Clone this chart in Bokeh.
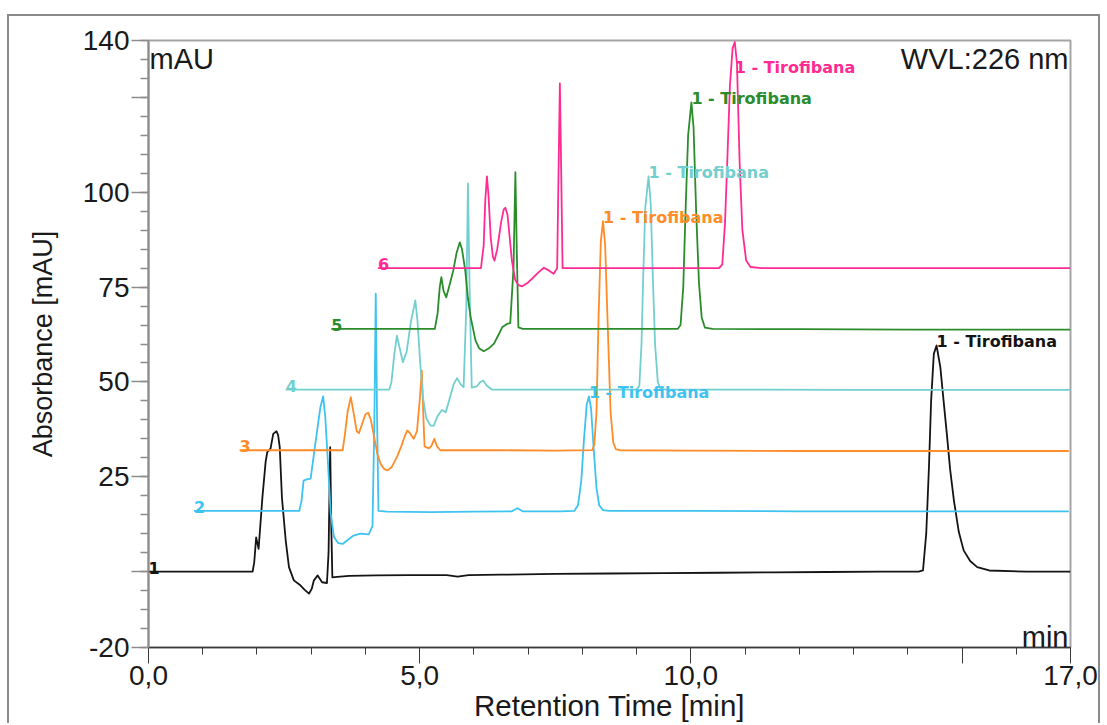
from bokeh.plotting import figure
from bokeh.models import Range1d, FixedTicker, Label, ColumnDataSource
from bokeh.core.properties import value
from bokeh.embed import file_html
from bokeh.resources import INLINE

# ---------------- data ----------------
trace_names = ["1", "2", "3", "4", "5", "6"]
colors = ["#141414", "#3ec3f0", "#ff8c28", "#72cfcf", "#2b8c2b", "#ff2a92"]
start_times = [0.0, 0.84, 1.68, 2.53, 3.37, 4.23]
baselines = [0, 16, 32, 48, 64, 80]

peak_name = "1 - Tirofibana"
peak_times = [14.53, 8.12, 8.38, 9.22, 10.01, 10.81]
peak_heights = [59.6, 46.2, 92.4, 104.2, 123.7, 139.6]

t1 = [0.00, 1.92, 1.95, 1.985, 2.03, 2.10, 2.16, 2.19, 2.25, 2.30, 2.36, 2.39, 2.42, 2.46, 2.53, 2.59, 2.68, 2.80, 2.88, 2.96,
      3.01, 3.05, 3.12, 3.20, 3.29, 3.32, 3.35, 3.37, 3.39, 3.48, 3.70, 4.20, 4.80, 5.50, 5.70, 5.90, 6.50, 7.50, 8.50, 9.50,
      10.50, 11.50, 12.50, 13.50, 14.20, 14.28, 14.34, 14.39, 14.43, 14.48, 14.53, 14.60, 14.66, 14.72, 14.78, 14.85, 14.94,
      15.03, 15.15, 15.28, 15.50, 16.20, 17.00]
v1 = [0.0, 0.0, 2.5, 9.0, 6.0, 19.5, 29.0, 31.5, 32.4, 36.3, 37.0, 36.0, 32.8, 19.6, 8.2, 1.2, -2.3, -3.6, -4.8, -5.8,
      -4.5, -2.3, -1.0, -2.8, -3.0, 5.0, 32.8, 12.0, -1.5, -1.4, -1.1, -1.0, -0.9, -0.9, -1.3, -0.9, -0.8, -0.6, -0.5, -0.4,
      -0.3, -0.2, -0.1, 0.0, 0.0, 0.3, 10.0, 27.5, 45.0, 57.4, 59.6, 53.9, 45.0, 36.3, 27.0, 18.8, 10.5,
      5.6, 2.8, 1.2, 0.3, 0.0, 0.0]

t2 = [0.84, 2.78, 2.82, 2.86, 2.92, 2.99, 3.05, 3.11, 3.17, 3.22, 3.26, 3.31, 3.36, 3.42, 3.50, 3.58, 3.66, 3.78, 3.91, 4.06,
      4.13, 4.165, 4.19, 4.215, 4.24, 4.40, 5.20, 6.00, 6.70, 6.80, 6.90, 7.60, 7.85, 7.92, 7.98, 8.03, 8.08, 8.12, 8.16, 8.21,
      8.26, 8.31, 8.38, 8.50, 10.0, 12.0, 14.0, 16.97]
v2 = [16.0, 16.0, 18.5, 24.0, 24.3, 24.5, 31.0, 37.2, 43.4, 46.2, 40.7, 28.4, 15.3, 9.1, 7.5, 7.3, 8.2, 9.5, 10.0, 9.8,
      12.0, 40.0, 73.3, 40.0, 16.0, 15.8, 15.7, 15.8, 15.9, 16.7, 15.9, 15.9, 16.0, 17.5, 24.0, 35.0, 44.0, 46.2, 43.0, 32.0,
      22.0, 17.5, 16.2, 16.0, 16.0, 15.9, 15.9, 15.9]

t3 = [1.68, 3.58, 3.62, 3.67, 3.73, 3.78, 3.84, 3.88, 3.94, 4.00, 4.05, 4.10, 4.16, 4.22, 4.28, 4.35, 4.41, 4.48, 4.58, 4.66,
      4.72, 4.77, 4.82, 4.89, 4.95, 5.00, 5.04, 5.07, 5.09, 5.17, 5.22, 5.27, 5.32, 5.38, 6.50, 7.50, 8.18, 8.22, 8.26, 8.30,
      8.34, 8.38, 8.42, 8.46, 8.52, 8.57, 8.62, 8.70, 10.0, 12.0, 14.0, 16.97]
v3 = [32.0, 32.0, 36.0, 42.0, 46.0, 42.0, 37.0, 36.5, 39.0, 41.5, 41.9, 40.0, 35.5, 31.0, 28.4, 27.0, 26.7, 27.5, 30.2, 33.0,
      35.5, 37.2, 36.5, 35.0, 37.0, 45.0, 53.0, 40.0, 33.0, 32.5, 33.2, 35.0, 33.0, 32.0, 32.0, 31.9, 32.0, 33.5, 42.0, 68.0,
      87.0, 92.4, 86.0, 68.0, 42.0, 34.0, 32.2, 32.0, 31.9, 31.8, 31.8, 31.8]

t4 = [2.53, 4.44, 4.48, 4.53, 4.58, 4.63, 4.69, 4.76, 4.84, 4.92, 4.96, 5.01, 5.06, 5.12, 5.20, 5.26, 5.33, 5.41, 5.48, 5.55,
      5.63, 5.69, 5.75, 5.81, 5.86, 5.89, 5.92, 5.96, 6.05, 6.12, 6.17, 6.24, 6.33, 7.50, 9.00, 9.05, 9.09, 9.12, 9.16, 9.22,
      9.26, 9.30, 9.34, 9.39, 9.44, 9.55, 11.0, 13.0, 15.0, 17.0]
v4 = [48.0, 48.0, 50.0, 57.0, 62.2, 59.0, 55.2, 58.0, 66.0, 71.5, 66.0, 55.0, 46.0, 40.5, 38.5, 38.5, 41.0, 42.6, 42.0, 45.5,
      49.5, 51.0, 49.5, 48.6, 70.0, 102.3, 75.0, 48.5, 48.8, 50.0, 50.4, 49.0, 48.0, 48.0, 48.0, 49.0, 60.0, 77.0, 96.0, 104.2,
      97.0, 77.0, 60.0, 50.0, 48.2, 48.0, 48.0, 47.9, 47.9, 47.9]

t5 = [3.37, 5.28, 5.33, 5.37, 5.40, 5.44, 5.49, 5.55, 5.62, 5.68, 5.74, 5.78, 5.84, 5.89, 5.94, 6.03, 6.10, 6.18, 6.27, 6.37,
      6.45, 6.52, 6.61, 6.67, 6.73, 6.765, 6.79, 6.82, 6.90, 8.50, 9.76, 9.81, 9.86, 9.90, 9.95, 10.01, 10.05, 10.10, 10.15,
      10.20, 10.26, 10.40, 12.0, 14.0, 17.0]
v5 = [64.0, 64.0, 68.0, 75.0, 77.6, 74.0, 72.3, 75.5, 79.4, 84.0, 86.8, 85.0, 79.4, 72.0, 67.1, 60.9, 58.8, 58.1, 58.8, 60.1,
      62.3, 64.4, 65.3, 65.5, 80.0, 105.3, 85.0, 64.4, 64.0, 64.0, 64.0, 65.0, 75.0, 94.0, 115.0, 123.7, 117.0, 94.0, 76.0,
      67.0, 64.3, 64.0, 63.9, 63.8, 63.8]

t6 = [4.23, 6.13, 6.18, 6.21, 6.24, 6.27, 6.31, 6.35, 6.38, 6.43, 6.50, 6.55, 6.58, 6.62, 6.66, 6.70, 6.76, 6.82, 6.89, 6.98,
      7.10, 7.20, 7.29, 7.38, 7.47, 7.535, 7.56, 7.585, 7.61, 7.635, 7.75, 9.00, 10.52, 10.58, 10.63, 10.67, 10.72, 10.77,
      10.81, 10.85, 10.90, 10.95, 11.02, 11.10, 11.30, 13.0, 15.0, 17.0]
v6 = [80.0, 80.0, 86.0, 98.0, 104.2, 99.0, 88.0, 83.0, 82.0, 85.0, 92.0, 95.5, 95.9, 94.0, 88.0, 82.0, 77.0, 75.5, 75.2, 76.0,
      77.6, 79.0, 80.1, 79.4, 78.5, 80.0, 105.0, 128.7, 105.0, 80.0, 80.0, 80.0, 80.0, 81.0, 92.0, 107.5, 128.0, 138.0,
      139.6, 134.0, 107.5, 90.0, 82.0, 80.3, 80.0, 80.0, 80.0, 80.0]

traces_t = [t1, t2, t3, t4, t5, t6]
traces_v = [v1, v2, v3, v4, v5, v6]

x_tick_values = [0, 5, 10, 15, 17]
x_tick_labels = ["0,0", "5,0", "10,0", "", "17,0"]
y_tick_values = [-20, 0, 25, 50, 75, 100, 125, 140]
y_tick_labels = ["-20", "", "25", "50", "75", "100", "", "140"]

X_MIN, X_MAX = 0, 17
Y_MIN, Y_MAX = -20, 140

# ---------------- figure ----------------
FONT = "Liberation Sans"
p = figure(width=1093, height=709, output_backend="svg", toolbar_location=None,
           x_range=Range1d(X_MIN, X_MAX), y_range=Range1d(Y_MIN, Y_MAX),
           min_border_left=139, min_border_right=32, min_border_top=24, min_border_bottom=78)
p.styles = {"margin-left": "7px", "margin-top": "14px",
            "border-left": "2px solid #8a8a8a", "border-top": "2px solid #8a8a8a",
            "border-right": "2px solid #8a8a8a"}
p.background_fill_color = "white"
p.border_fill_color = "white"
p.grid.visible = False
p.outline_line_color = "#a5a5a5"
p.outline_line_width = 2

# x axis
xa = p.xaxis[0]
xa.ticker = FixedTicker(ticks=x_tick_values, minor_ticks=list(range(X_MIN, X_MAX + 1)))
xa.major_label_overrides = {v: l for v, l in zip(x_tick_values, x_tick_labels)}
xa.axis_label = "Retention Time [min]"
xa.axis_line_color = "#3a3a3a"
xa.axis_line_width = 1.5
xa.major_tick_line_color = "#3a3a3a"
xa.minor_tick_line_color = "#3a3a3a"
xa.major_tick_in = 0
xa.major_tick_out = 16
xa.minor_tick_in = 0
xa.minor_tick_out = 7
xa.major_label_standoff = 2
xa.axis_label_standoff = 1
xa.major_label_text_font = FONT
xa.major_label_text_font_size = "28px"
xa.major_label_text_color = "#1a1a1a"
xa.axis_label_text_font = FONT
xa.axis_label_text_font_size = "29.5px"
xa.axis_label_text_font_style = "normal"
xa.axis_label_text_color = "#1a1a1a"

# y axis
ya = p.yaxis[0]
ya.ticker = FixedTicker(ticks=y_tick_values, minor_ticks=list(range(Y_MIN, Y_MAX + 1, 5)))
ya.major_label_overrides = {v: l for v, l in zip(y_tick_values, y_tick_labels)}
ya.axis_label = "Absorbance [mAU]"
ya.axis_line_color = "#8c8c8c"
ya.axis_line_width = 2
ya.major_tick_line_color = "#8c8c8c"
ya.minor_tick_line_color = "#8c8c8c"
ya.major_tick_line_width = 1.5
ya.minor_tick_line_width = 1.5
ya.major_tick_in = 0
ya.major_tick_out = 17
ya.minor_tick_in = 0
ya.minor_tick_out = 8
ya.major_label_standoff = 2
ya.axis_label_standoff = 22
ya.major_label_text_font = FONT
ya.major_label_text_font_size = "28px"
ya.major_label_text_color = "#1a1a1a"
ya.axis_label_text_font = FONT
ya.axis_label_text_font_size = "27px"
ya.axis_label_text_font_style = "normal"
ya.axis_label_text_color = "#1a1a1a"

# traces
for tt, vv, c in zip(traces_t, traces_v, colors):
    p.line(tt, vv, line_color=c, line_width=1.8, line_join="round")

# trace number labels
num_src = ColumnDataSource(dict(x=start_times, y=[b + 1.0 for b in baselines],
                                text=trace_names, color=colors))
p.text(x="x", y="y", text="text", text_color="color", source=num_src,
       text_font=value("DejaVu Sans"), text_font_style="bold", text_font_size="16px",
       text_align="left", text_baseline="alphabetic")

# peak labels
lab_y = [h + 1.0 if h + 6 <= Y_MAX else h - 6.7 for h in peak_heights]
pk_src = ColumnDataSource(dict(x=peak_times, y=lab_y, text=[peak_name] * len(peak_times), color=colors))
p.text(x="x", y="y", text="text", text_color="color", source=pk_src,
       text_font=value("DejaVu Sans"), text_font_style="bold", text_font_size="16px",
       text_align="left", text_baseline="alphabetic")

# corner texts
p.add_layout(Label(x=X_MIN, y=Y_MAX, x_offset=1, y_offset=-2, text="mAU", text_font=FONT,
                   text_font_size="29px", text_color="#1a1a1a", text_baseline="top", text_align="left"))
p.add_layout(Label(x=X_MAX, y=Y_MAX, x_offset=-2, y_offset=-2, text="WVL:226 nm", text_font=FONT,
                   text_font_size="29px", text_color="#1a1a1a", text_baseline="top", text_align="right"))
p.add_layout(Label(x=X_MAX, y=Y_MIN, x_offset=-2, y_offset=11, text="min", text_font=FONT,
                   text_font_size="29px", text_color="#1a1a1a", text_baseline="alphabetic", text_align="right"))

open("out.html", "w").write(file_html(p, INLINE))
